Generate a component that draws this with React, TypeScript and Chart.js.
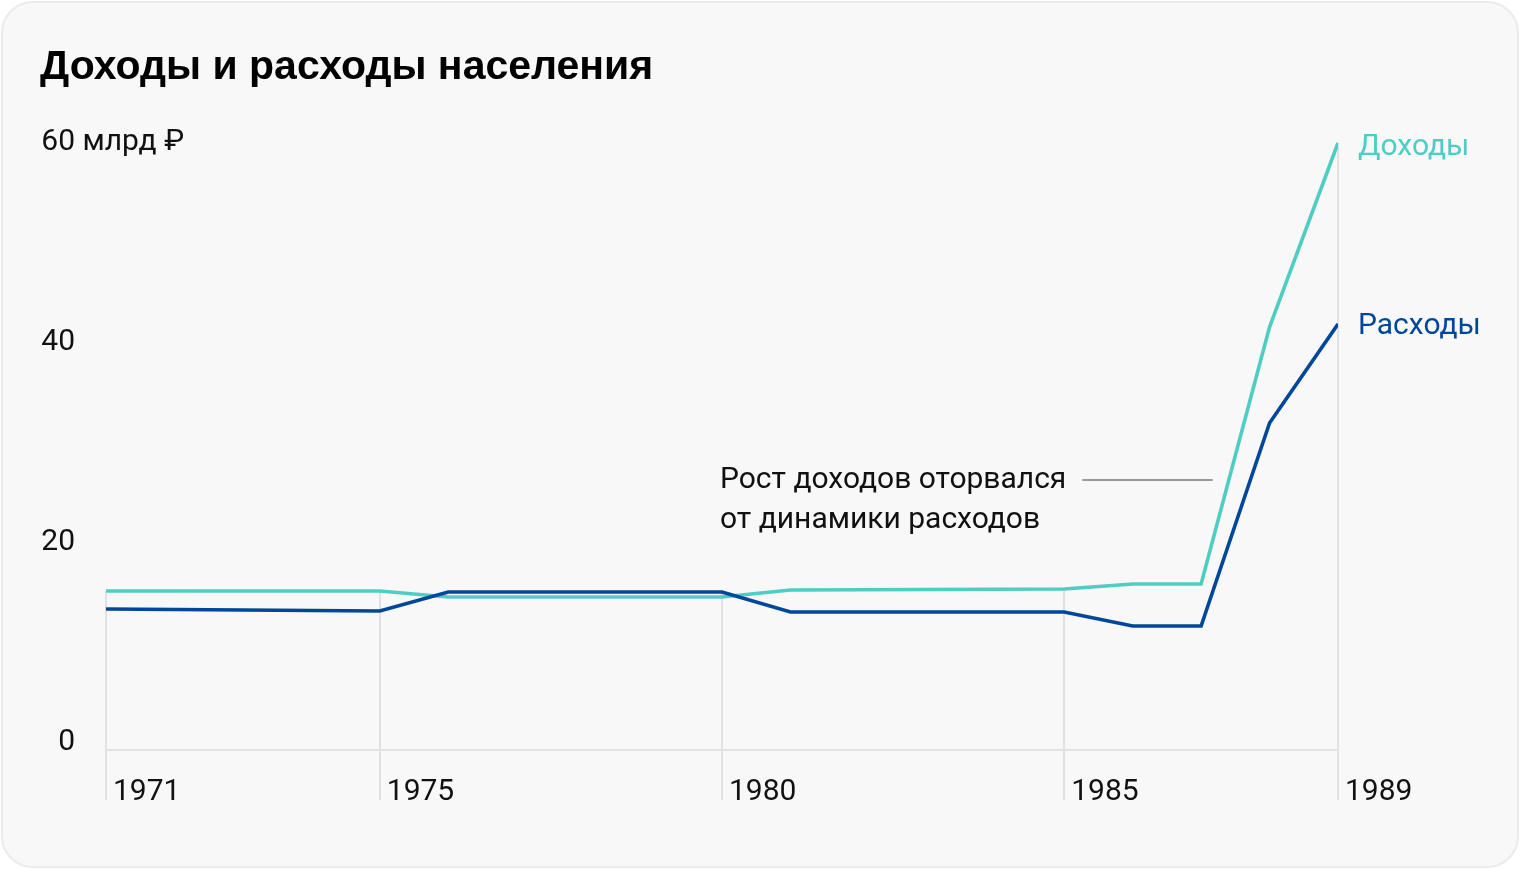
import React, { useEffect, useRef } from 'react';
import { Chart, registerables } from 'chart.js';

Chart.register(...registerables);

const title = 'Доходы и расходы населения';
const years = [1971, 1975, 1976, 1980, 1981, 1985, 1986, 1987, 1988, 1989];
const incomeValues = [15.9, 15.9, 15.3, 15.3, 16.0, 16.1, 16.6, 16.6, 42.3, 60.7];
const spendingValues = [14.1, 13.9, 15.8, 15.8, 13.8, 13.8, 12.4, 12.4, 32.7, 42.6];
const seriesNames = ['Доходы', 'Расходы'];
const xTickYears = [1971, 1975, 1980, 1985, 1989];
const yTickValues = [0, 20, 40, 60];
const yUnit = 'млрд ₽';
const annotationLines = ['Рост доходов оторвался', 'от динамики расходов'];

const TEAL = '#50cdc2';
const BLUE = '#00479b';
const FONT_FAMILY = 'Roboto, "Noto Sans", sans-serif';
const TEXT_COLOR = '#111111';

const overlayPlugin = {
  id: 'overlay',
  beforeDatasetsDraw(chart: any) {
    const { ctx, scales } = chart;
    const x = scales.x;
    const y = scales.y;
    ctx.save();
    ctx.strokeStyle = '#e2e2e2';
    ctx.lineWidth = 2;
    xTickYears.forEach((yr) => {
      const i = years.indexOf(yr);
      const top = Math.min(y.getPixelForValue(incomeValues[i]), y.getPixelForValue(spendingValues[i]));
      const px = Math.round(x.getPixelForValue(yr));
      ctx.beginPath();
      ctx.moveTo(px, top);
      ctx.lineTo(px, chart.height);
      ctx.stroke();
    });
    ctx.restore();
  },
  afterDatasetsDraw(chart: any) {
    const { ctx, scales, chartArea } = chart;
    const x = scales.x;
    const y = scales.y;
    ctx.save();
    ctx.font = `30px ${FONT_FAMILY}`;
    ctx.textBaseline = 'middle';
    ctx.textAlign = 'left';

    // series end labels
    [0, 1].forEach((di) => {
      const meta = chart.getDatasetMeta(di);
      const last = meta.data[meta.data.length - 1];
      ctx.fillStyle = di === 0 ? TEAL : BLUE;
      ctx.fillText(seriesNames[di], last.x + 20, last.y + (di === 0 ? 4 : 2));
    });

    // unit suffix for the top y tick
    ctx.fillStyle = TEXT_COLOR;
    const labelRight = chartArea.left - 31;
    const topVal = yTickValues[yTickValues.length - 1];
    ctx.fillText(' ' + yUnit, labelRight, y.getPixelForValue(topVal) - 8);

    // annotation
    const ax = x.getPixelForValue(1980) - 2;
    const ay = y.getPixelForValue(27.0);
    annotationLines.forEach((line, i) => {
      ctx.fillText(line, ax, ay + i * 40);
    });
    const w = ctx.measureText(annotationLines[0]).width;
    ctx.strokeStyle = '#9a9a9a';
    ctx.lineWidth = 2;
    ctx.beginPath();
    ctx.moveTo(ax + w + 16, Math.round(ay));
    ctx.lineTo(x.getPixelForValue(1987.17), Math.round(ay));
    ctx.stroke();
    ctx.restore();
  },
};

function ChartCanvas() {
  const ref = useRef<HTMLCanvasElement | null>(null);
  useEffect(() => {
    if (!ref.current) return;
    const font = { family: FONT_FAMILY, size: 30 };
    const chart = new Chart(ref.current, {
      type: 'line',
      data: {
        datasets: [
          {
            label: seriesNames[0],
            data: years.map((yr, i) => ({ x: yr, y: incomeValues[i] })),
            borderColor: TEAL,
            backgroundColor: TEAL,
            borderWidth: 3.6,
            pointRadius: 0,
            tension: 0,
            order: 1,
          },
          {
            label: seriesNames[1],
            data: years.map((yr, i) => ({ x: yr, y: spendingValues[i] })),
            borderColor: BLUE,
            backgroundColor: BLUE,
            borderWidth: 3.6,
            pointRadius: 0,
            tension: 0,
            order: 0,
          },
        ],
      },
      options: {
        animation: false,
        responsive: false,
        devicePixelRatio: 1,
        layout: { padding: { top: 130, right: 182, left: 0, bottom: 0 } },
        plugins: { legend: { display: false }, tooltip: { enabled: false } },
        scales: {
          x: {
            type: 'linear',
            min: 1971,
            max: 1989,
            afterBuildTicks: (s: any) => {
              s.ticks = xTickYears.map((v) => ({ value: v }));
            },
            afterFit: (s: any) => {
              s.height = 50;
            },
            grid: { display: false, drawTicks: false },
            border: { display: true, color: '#e2e2e2', width: 2 },
            ticks: {
              align: 'start',
              labelOffset: 7,
              padding: 24,
              maxRotation: 0,
              autoSkip: false,
              color: TEXT_COLOR,
              font,
              callback: (v: any) => String(v),
            },
          },
          y: {
            min: 0,
            max: 62,
            afterBuildTicks: (s: any) => {
              s.ticks = yTickValues.map((v) => ({ value: v }));
            },
            afterFit: (s: any) => {
              s.width = 106;
            },
            grid: { display: false, drawTicks: false },
            border: { display: false },
            ticks: {
              padding: 31,
              labelOffset: -8,
              color: TEXT_COLOR,
              font,
              callback: (v: any) => String(v),
            },
          },
        },
      },
      plugins: [overlayPlugin],
    } as any);
    return () => chart.destroy();
  }, []);
  return (
    <canvas
      ref={ref}
      width={1520}
      height={800}
      style={{ position: 'absolute', left: 0, top: 0, width: 1520, height: 800 }}
    />
  );
}

export default function App() {
  return (
    <div style={{ position: 'absolute', left: 0, top: 0, width: 1520, height: 870, background: '#ffffff' }}>
      <div
        style={{
          position: 'absolute',
          left: 1,
          top: 1,
          width: 1518,
          height: 867,
          boxSizing: 'border-box',
          border: '2px solid #ebebeb',
          borderRadius: 32,
          background: '#f8f8f8',
        }}
      />
      <ChartCanvas />
      <div
        style={{
          position: 'absolute',
          left: 40,
          top: 45,
          fontFamily: '"Liberation Sans", Arial, sans-serif',
          fontWeight: 700,
          fontSize: 41,
          lineHeight: '41px',
          color: '#000',
          whiteSpace: 'nowrap',
        }}
      >
        {title}
      </div>
    </div>
  );
}
